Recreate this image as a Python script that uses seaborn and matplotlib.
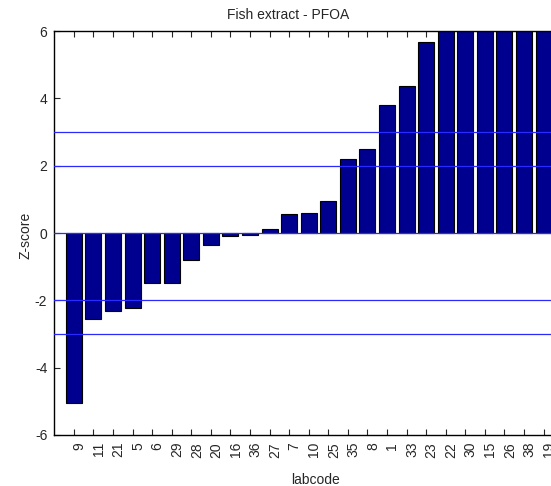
import matplotlib
matplotlib.use("Agg")
import matplotlib.pyplot as plt
import matplotlib.transforms as mtransforms
import seaborn as sns
import pandas as pd

labcodes = ["9", "11", "21", "5", "6", "29", "28", "20", "16", "36", "27", "7", "10",
            "25", "35", "8", "1", "33", "23", "22", "30", "15", "26", "38", "19"]
zscores = [-5.06, -2.56, -2.32, -2.22, -1.48, -1.48, -0.81, -0.36, -0.08, -0.05, 0.11,
           0.56, 0.60, 0.96, 2.19, 2.49, 3.79, 4.38, 5.69, 7.2, 8.5, 9.8, 12.4, 15.1, 20.3]
ref_lines = [-3, -2, 0, 2, 3]
yticks = [-6, -4, -2, 0, 2, 4, 6]

sns.set_style("white")
plt.rcParams["font.family"] = ["Liberation Sans", "DejaVu Sans"]

df = pd.DataFrame({"labcode": labcodes, "z": zscores})

fig = plt.figure(figsize=(5.51, 4.86), dpi=100)
ax = fig.add_axes([0.0985, 0.105, 0.9235, 0.831])

sns.barplot(data=df, x="labcode", y="z", order=labcodes, color="#00008f",
            saturation=1, width=0.82, edgecolor="black", linewidth=0.8, ax=ax)

for y in ref_lines:
    ax.axhline(y, color="#2a2aff", linewidth=0.9, zorder=3)

ax.set_xlim(-1, len(labcodes))
ax.set_ylim(-6, 6)
ax.set_yticks(yticks)
ax.set_yticklabels([str(v) for v in yticks])
ax.tick_params(axis="x", labelrotation=90)
ax.tick_params(direction="in", length=4, width=0.8, labelsize=10,
               top=True, right=True, bottom=True, left=True, pad=5)
for s in ax.spines.values():
    s.set_linewidth(1.0)
    s.set_color("black")

# rotated labels sit a little to the right of their ticks
shift = mtransforms.ScaledTranslation(0.055, 0, fig.dpi_scale_trans)
for lbl in ax.get_xticklabels():
    lbl.set_transform(lbl.get_transform() + shift)

ax.set_title("Fish extract - PFOA", fontsize=10, pad=9, x=0.459)
ax.set_xlabel("labcode", fontsize=10)
ax.xaxis.set_label_coords(0.514, -0.093)
ax.set_ylabel("Z-score", fontsize=10)
ax.yaxis.set_label_coords(-0.042, 0.494)

fig.savefig("out.png", dpi=100)
